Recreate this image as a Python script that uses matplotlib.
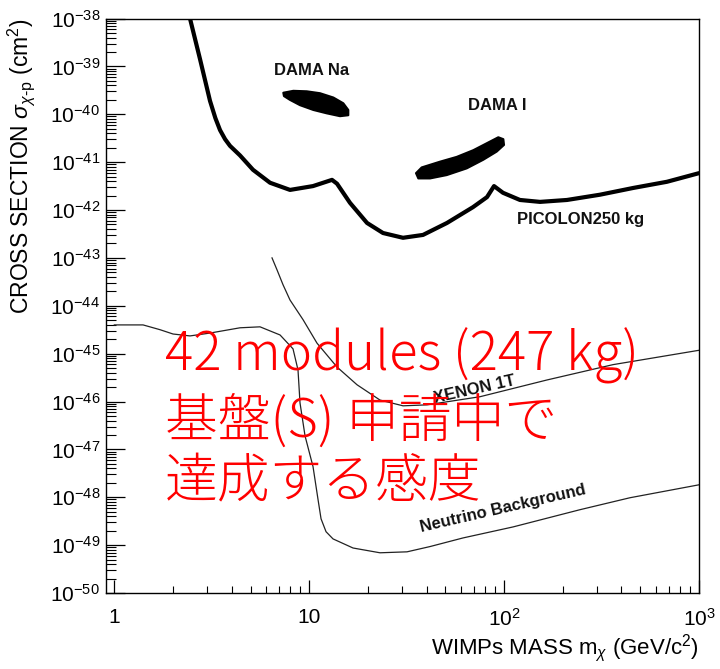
import numpy as np
import matplotlib
matplotlib.use("Agg")
import matplotlib.pyplot as plt
from matplotlib.ticker import FixedLocator, FixedFormatter, LogLocator, NullFormatter

plt.rcParams.update({
    "font.family": ["Liberation Sans", "DejaVu Sans"],
    "mathtext.fontset": "custom",
    "mathtext.rm": "Liberation Sans",
    "mathtext.it": "Liberation Sans:italic",
    "mathtext.bf": "Liberation Sans:bold",
})

# ── data (mass in GeV/c^2, log10 of cross section in cm^2) ──────────────────
picolon_mass = [2.445, 2.753, 3.097, 3.30, 3.486, 3.70, 3.923, 4.416, 5.148,
                6.294, 7.97, 10.46, 13.09, 13.89, 16.19, 19.80, 23.91, 30.29,
                38.37, 50.93, 69.24, 81.72, 88.78, 98.7, 120.6, 152.9, 210.2,
                310.5, 458.5, 685.0, 1000.0]
picolon_logsig = [-38.0, -38.85, -39.72, -40.08, -40.33, -40.52, -40.66, -40.86,
                  -41.16, -41.43, -41.58, -41.50, -41.37, -41.45, -41.85, -42.27,
                  -42.48, -42.58, -42.52, -42.27, -41.94, -41.73, -41.50, -41.64,
                  -41.79, -41.83, -41.79, -41.68, -41.54, -41.41, -41.23]

xenon_mass = [6.444, 6.836, 7.337, 7.97, 9.295, 10.96, 13.89, 17.59, 23.08,
              30.29, 40.21, 75.2, 166.0, 362.0, 1000.0]
xenon_logsig = [-43.0, -43.25, -43.56, -43.88, -44.29, -44.78, -45.28, -45.65,
                -45.97, -46.09, -46.07, -45.90, -45.55, -45.23, -44.93]

nu_mass = [1.0, 1.404, 1.716, 2.001, 2.445, 3.097, 4.416, 5.592, 7.085, 8.258,
           8.759, 8.97, 9.52, 10.46, 11.10, 11.5, 12.2, 13.25, 16.78, 23.08,
           31.76, 41.67, 61.52, 111.1, 245.1, 442.6, 1000.0]
nu_logsig = [-44.40, -44.40, -44.50, -44.59, -44.63, -44.57, -44.46, -44.44,
             -44.61, -44.90, -45.34, -46.03, -46.72, -47.36, -48.05, -48.45,
             -48.72, -48.87, -49.06, -49.16, -49.14, -49.03, -48.85, -48.62,
             -48.26, -48.01, -47.74]

dama_na_mass = [7.364, 8.287, 9.71, 11.36, 13.30, 14.96, 15.87, 15.87, 14.39,
                12.29, 10.50, 8.97, 7.97, 7.42]
dama_na_logsig = [-39.55, -39.51, -39.52, -39.56, -39.65, -39.77, -39.91,
                  -40.02, -40.04, -39.98, -39.91, -39.81, -39.70, -39.62]

dama_i_mass = [35.32, 37.77, 46.9, 57.13, 69.5, 84.65, 93.4, 99.1, 99.9, 91.6,
               78.2, 64.3, 50.8, 41.7, 36.3]
dama_i_logsig = [-41.23, -41.11, -40.99, -40.89, -40.75, -40.57, -40.48, -40.52,
                 -40.64, -40.78, -40.95, -41.13, -41.27, -41.34, -41.34]

x_ticks = [1, 10, 100, 1000]
x_ticklabels = ["1", "10", r"$10^{2}$", r"$10^{3}$"]
y_exponents = list(range(-50, -37))

red_lines = ["42 modules (247 kg)", "基盤(S) 申請中で", "達成する感度"]

fig = plt.figure(figsize=(7.2, 6.69), dpi=100)
ax = fig.add_axes([0.1468, 0.1136, 0.824, 0.8587])
ax.set_xscale("log")
ax.set_yscale("log")
ax.set_xlim(0.903, 1000)
ax.set_ylim(1e-50, 1e-38)

to_sig = lambda v: np.power(10.0, np.asarray(v))

ax.plot(picolon_mass, to_sig(picolon_logsig), color="black", lw=3.0,
        solid_joinstyle="round", solid_capstyle="round")
ax.plot(xenon_mass, to_sig(xenon_logsig), color="#222222", lw=0.9)
ax.plot(nu_mass, to_sig(nu_logsig), color="#222222", lw=0.9)
ax.fill(dama_na_mass, to_sig(dama_na_logsig), color="black", lw=1.5,
        joinstyle="round")
ax.fill(dama_i_mass, to_sig(dama_i_logsig), color="black", lw=1.5,
        joinstyle="round")

lbl = dict(fontsize=12, fontweight="bold", color="#111111", ha="center", va="center")
ax.text(10.34, 8.4e-40, "DAMA Na", **lbl)
ax.text(91.9, 1.5e-40, "DAMA I", **lbl)
ax.text(248, 6.2e-43, "PICOLON250 kg", **lbl)
ax.text(70.9, 1.8e-46, "XENON 1T", rotation=12.6, **lbl)
ax.text(99.1, 5.9e-49, "Neutrino Background", rotation=13, **lbl)

# red overlay text
red_y = [0.4125, 0.298, 0.192]
for line, yy in zip(red_lines, red_y):
    ax.text(0.1, yy, line, transform=ax.transAxes, color="#FF0000", fontsize=38,
            fontweight="light", family=["Noto Sans CJK JP", "DejaVu Sans"],
            ha="left", va="center")

# axes / ticks in ROOT style
ax.xaxis.set_major_locator(FixedLocator(x_ticks))
ax.xaxis.set_major_formatter(FixedFormatter(x_ticklabels))
ax.xaxis.set_minor_locator(LogLocator(base=10, subs=np.arange(2, 10), numticks=20))
ax.xaxis.set_minor_formatter(NullFormatter())
ax.yaxis.set_major_locator(FixedLocator([10.0 ** e for e in y_exponents]))
ax.yaxis.set_major_formatter(FixedFormatter([rf"$10^{{{e}}}$" for e in y_exponents]))
ax.yaxis.set_minor_locator(LogLocator(base=10, subs=np.arange(2, 10), numticks=20))
ax.yaxis.set_minor_formatter(NullFormatter())

ax.tick_params(axis="x", which="major", direction="in", length=9.5, width=0.9,
               labelsize=15, pad=11, top=False)
ax.tick_params(axis="x", which="minor", direction="in", length=5, width=0.8, top=False)
ax.tick_params(axis="y", which="major", direction="in", length=13.5, width=0.9,
               labelsize=15, pad=4, right=False)
ax.tick_params(axis="y", which="minor", direction="in", length=7, width=0.8, right=False)
for sp in ax.spines.values():
    sp.set_linewidth(1.0)

ax.set_ylabel(r"CROSS SECTION $\sigma_{\chi\mathrm{\text{-}p}}$ (cm$^{2}$)",
              fontsize=16.5, loc="top")
ax.yaxis.set_label_coords(-0.116, 1.0)
ax.set_xlabel(r"WIMPs MASS m$_{\chi}$ (GeV/c$^{2}$)", fontsize=16, loc="right")
ax.xaxis.set_label_coords(1.0, -0.068)

fig.savefig("out.png", dpi=100)
